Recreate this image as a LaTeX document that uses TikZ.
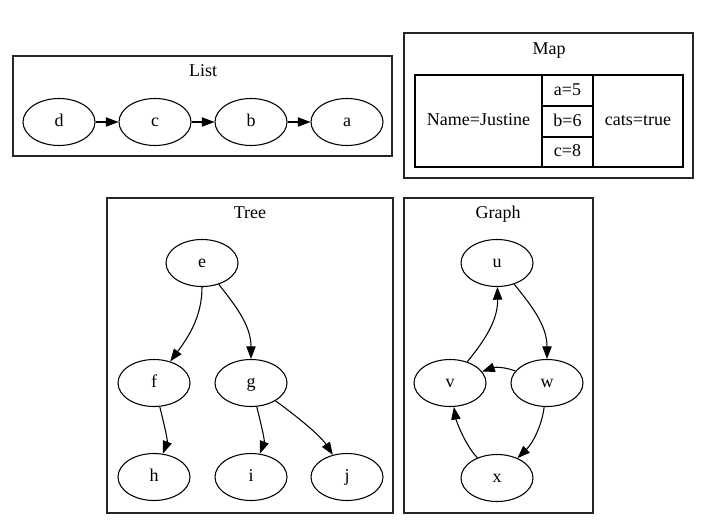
\documentclass[tikz,border=0pt]{standalone}
\usepackage{fontspec}
\setmainfont{Liberation Serif}
\usetikzlibrary{arrows.meta,shapes.geometric}
\begin{document}
\begin{tikzpicture}[x=0.75pt,y=-0.75pt,
  txt/.style={font=\fontsize{13.5}{16}\selectfont,text height=7pt,text depth=0pt,inner sep=0pt},
  nd/.style={txt,ellipse,draw,line width=0.8pt,minimum width=54pt,minimum height=35.25pt},
  cl/.style={draw,line width=0.9pt,black!85},
  rec/.style={draw,line width=0.8pt},
  arr/.style={line width=0.8pt,-{Triangle[length=9.5pt,width=7pt]}}]
\useasboundingbox (0,0) rectangle (705,529);
% clusters
\draw[cl] (13,56) rectangle (392,156);
\node[txt] (tlist) at (203,72.3) {List};
\draw[cl] (404,33) rectangle (693,178);
\node[txt] (tmap) at (549,49.5) {Map};
\draw[cl] (107,198) rectangle (393,513);
\node[txt] (ttree) at (250,213.5) {Tree};
\draw[cl] (404,198) rectangle (593,513);
\node[txt] (tgraph) at (498,213.5) {Graph};
% list
\node[nd] (d) at (59,122) {d};
\node[nd] (c) at (155,122) {c};
\node[nd] (b) at (251,122) {b};
\node[nd] (a) at (347,122) {a};
\draw[arr] (d) -- (c);
\draw[arr] (c) -- (b);
\draw[arr] (b) -- (a);
% map record
\draw[rec] (415,75) rectangle (683,167);
\draw[rec] (542,75) -- (542,167) (593,75) -- (593,167)
  (542,106) -- (593,106) (542,137) -- (593,137);
\node[txt] (name) at (478.5,121) {Name=Justine};
\node[txt] (ka) at (567.5,90.5) {a=5};
\node[txt] (kb) at (567.5,121.5) {b=6};
\node[txt] (kc) at (567.5,152) {c=8};
\node[txt] (cats) at (638,121) {cats=true};
% tree
\node[nd] (e) at (202,263) {e};
\node[nd] (f) at (154,383) {f};
\node[nd] (g) at (251,383) {g};
\node[nd] (h) at (154,477) {h};
\node[nd] (i) at (251,477) {i};
\node[nd] (j) at (347,477) {j};
\draw[arr] (e) .. controls (202,315) and (190,335) .. (f);
\draw[arr] (e) .. controls (235,305) and (251,325) .. (g);
\draw[arr] (f) .. controls (163,420) and (168,440) .. (h);
\draw[arr] (g) .. controls (260,420) and (265,440) .. (i);
\draw[arr] (g) .. controls (295,415) and (320,435) .. (j);
% graph
\node[nd] (u) at (497,263) {u};
\node[nd] (v) at (450,383) {v};
\node[nd] (w) at (547,383) {w};
\node[nd] (x) at (497,478) {x};
\draw[arr] (u) .. controls (531,305) and (547,325) .. (w);
\draw[arr] (v) .. controls (485,340) and (498,320) .. (u);
\draw[arr] (w) .. controls (505,367) and (495,367) .. (v);
\draw[arr] (w) .. controls (542,425) and (533,443) .. (x);
\draw[arr] (x) .. controls (465,445) and (456,420) .. (v);
\end{tikzpicture}
\end{document}
